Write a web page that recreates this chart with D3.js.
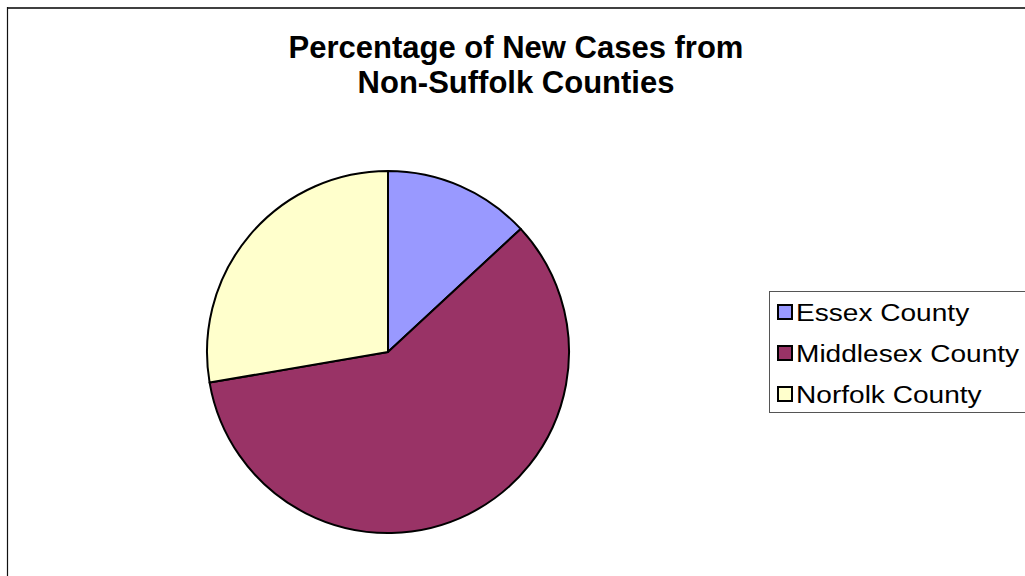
<!DOCTYPE html>
<html>
<head>
<meta charset="utf-8">
<script src="https://cdn.jsdelivr.net/npm/d3@7"></script>
<style>
  html, body { margin: 0; padding: 0; background: #fff; }
  svg { display: block; }
</style>
</head>
<body>
<svg id="chart" width="1025" height="576"></svg>
<script>
const categories = ["Essex County", "Middlesex County", "Norfolk County"];
const values = [13.1, 59.2, 27.7];
const colors = ["#9999FF", "#993366", "#FFFFCC"];
const titleLines = ["Percentage of New Cases from", "Non-Suffolk Counties"];

const svg = d3.select("#chart");
const W = 1025, H = 576;

// outer chart frame (cut off at right/bottom)
svg.append("line").attr("x1", 7).attr("x2", W + 5).attr("y1", 8).attr("y2", 8)
  .attr("stroke", "#404040").attr("stroke-width", 2);
svg.append("line").attr("x1", 7.5).attr("x2", 7.5).attr("y1", 7).attr("y2", H + 5)
  .attr("stroke", "#111").attr("stroke-width", 1.2);

// title
svg.append("g").selectAll("text").data(titleLines).join("text")
  .attr("x", 516)
  .attr("y", (d, i) => 58 + i * 35)
  .attr("text-anchor", "middle")
  .attr("font-family", "Liberation Sans, Arial, sans-serif")
  .attr("font-weight", "bold")
  .attr("font-size", 31)
  .attr("fill", "#000")
  .text(d => d);

// pie
const cx = 388, cy = 352, R = 181;
const pie = d3.pie().sort(null).value(d => d).startAngle(0).endAngle(2 * Math.PI);
const arc = d3.arc().innerRadius(0).outerRadius(R);
const color = d3.scaleOrdinal().domain(categories).range(colors);

svg.append("g").attr("transform", `translate(${cx},${cy})`)
  .selectAll("path").data(pie(values)).join("path")
  .attr("d", arc)
  .attr("fill", (d, i) => color(categories[i]))
  .attr("stroke", "#000")
  .attr("stroke-width", 2)
  .attr("stroke-linejoin", "round");

// legend
const lg = svg.append("g");
lg.append("rect").attr("x", 769.5).attr("y", 291.5).attr("width", 300).attr("height", 121)
  .attr("fill", "#fff").attr("stroke", "#555").attr("stroke-width", 1);

const items = lg.selectAll("g.item").data(categories).join("g")
  .attr("class", "item")
  .attr("transform", (d, i) => `translate(0,${i * 41})`);
items.append("rect")
  .attr("x", 778).attr("y", 305).attr("width", 14).attr("height", 14)
  .attr("fill", d => color(d)).attr("stroke", "#000").attr("stroke-width", 2);
items.append("text")
  .attr("transform", "translate(796,320.5) scale(1.17,1)")
  .attr("font-family", "Liberation Sans, Arial, sans-serif")
  .attr("font-size", 24)
  .attr("fill", "#000")
  .text(d => d);
</script>
</body>
</html>
